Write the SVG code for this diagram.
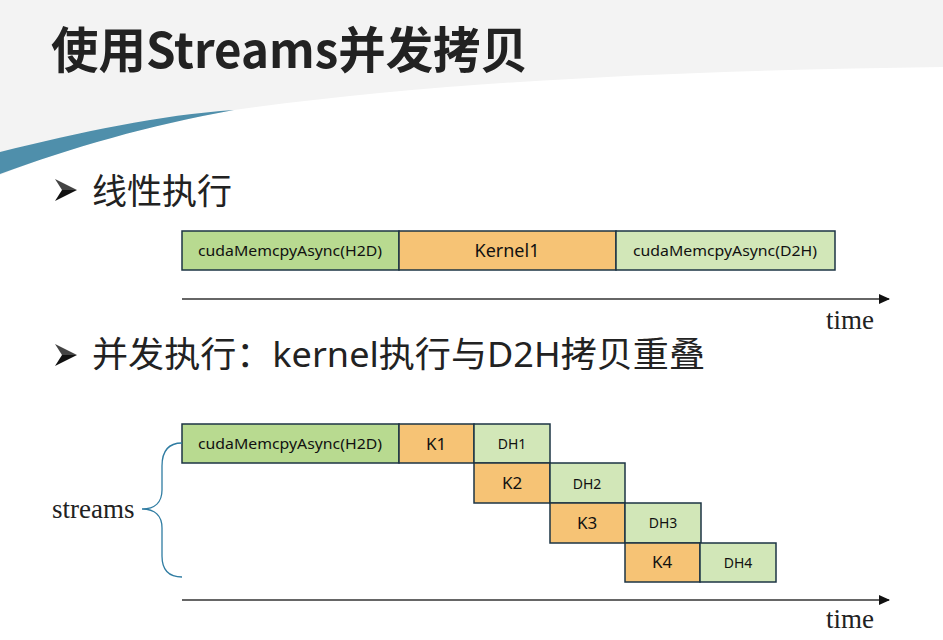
<svg xmlns="http://www.w3.org/2000/svg" width="943" height="640" viewBox="0 0 943 640">
<style>
.box{stroke:#1c3444;stroke-width:1.5}
.h2d{fill:#b8da90}
.k{fill:#f6c375}
.d2h{fill:#d2e7b8}
.lbl{font-family:"Noto Sans","Noto Sans CJK SC",sans-serif;fill:#111;text-anchor:middle}
.s{font-size:14px}
.b{font-size:17px}
.serif{font-family:"Liberation Serif",serif;fill:#222;font-size:27px}
.axis{stroke:#333;stroke-width:1.5}
.bul{font-family:"Noto Sans","Noto Sans CJK SC",sans-serif;font-size:35px;fill:#222}
.title{font-family:"Noto Sans CJK SC","Noto Sans",sans-serif;font-size:49px;font-weight:bold;fill:#222}
.arrT{fill:#444}
.arrB{fill:#111}
</style>
<defs>
<marker id="ah" markerWidth="12" markerHeight="10" refX="10" refY="5" orient="auto" markerUnits="userSpaceOnUse">
<path d="M0,0 L11,5 L0,10 Z" fill="#111"/>
</marker>
<g id="bulletArrow">
<polygon class="arrT" points="0,0 22,11 7,11"/>
<polygon class="arrB" points="7,11 22,11 0,22"/>
</g>
</defs>
<rect x="0" y="0" width="943" height="640" fill="#ffffff"/>
<path d="M0,0 H943 V67 C700,70 450,80 234,110 C150,125 60,150 0,175 Z" fill="#f3f3f3"/>
<path d="M0,152 C80,132 160,115 234,110 C150,125 70,148 0,174 Z" fill="#4f8fab"/>
<text class="title" x="51" y="68" textLength="477" lengthAdjust="spacingAndGlyphs">使用Streams并发拷贝</text>
<g id="bullet1">
<use href="#bulletArrow" x="55" y="179"/>
<text class="bul" x="92" y="204">线性执行</text>
</g>
<g id="bullet2">
<use href="#bulletArrow" x="55" y="344"/>
<text class="bul" x="92" y="367" textLength="613" lengthAdjust="spacingAndGlyphs">并发执行：kernel执行与D2H拷贝重叠</text>
</g>
<g id="seq-h2d"><rect class="box h2d" x="182" y="231" width="217" height="39"/><text class="lbl s" x="290" y="256" textLength="184" lengthAdjust="spacingAndGlyphs">cudaMemcpyAsync(H2D)</text></g>
<g id="seq-kernel"><rect class="box k" x="399" y="231" width="217" height="39"/><text class="lbl" x="507" y="257" font-size="18">Kernel1</text></g>
<g id="seq-d2h"><rect class="box d2h" x="616" y="231" width="219" height="39"/><text class="lbl s" x="725" y="256" textLength="184" lengthAdjust="spacingAndGlyphs">cudaMemcpyAsync(D2H)</text></g>
<g id="c-h2d"><rect class="box h2d" x="182" y="424" width="217" height="39"/><text class="lbl s" x="290" y="449" textLength="184" lengthAdjust="spacingAndGlyphs">cudaMemcpyAsync(H2D)</text></g>
<g id="k1"><rect class="box k" x="399" y="424" width="75" height="39"/><text class="lbl b" x="436" y="450">K1</text></g>
<g id="dh1"><rect class="box d2h" x="474" y="424" width="76" height="39"/><text class="lbl s" x="512" y="449">DH1</text></g>
<g id="k2"><rect class="box k" x="474" y="463" width="76" height="40"/><text class="lbl b" x="512" y="489">K2</text></g>
<g id="dh2"><rect class="box d2h" x="550" y="463" width="75" height="40"/><text class="lbl s" x="587" y="489">DH2</text></g>
<g id="k3"><rect class="box k" x="550" y="503" width="75" height="40"/><text class="lbl b" x="587" y="529">K3</text></g>
<g id="dh3"><rect class="box d2h" x="625" y="503" width="76" height="40"/><text class="lbl s" x="663" y="528">DH3</text></g>
<g id="k4"><rect class="box k" x="625" y="543" width="75" height="39"/><text class="lbl b" x="662" y="568">K4</text></g>
<g id="dh4"><rect class="box d2h" x="700" y="543" width="76" height="39"/><text class="lbl s" x="738" y="568">DH4</text></g>
<g id="connectors">
<line class="axis" x1="182" y1="299" x2="889" y2="299" marker-end="url(#ah)"/>
<line class="axis" x1="182" y1="600" x2="889" y2="600" marker-end="url(#ah)"/>
<path d="M182,443 C168,443 162,452 162,466 L162,490 C162,502 155,509 142,509 C155,509 162,516 162,528 L162,556 C162,569 168,577 182,577" fill="none" stroke="#2f7ca2" stroke-width="1.3"/>
</g>
<g id="labels">
<text class="serif" x="826" y="329">time</text>
<text class="serif" x="826" y="628">time</text>
<text class="serif" x="52" y="518">streams</text>
</g>
</svg>
